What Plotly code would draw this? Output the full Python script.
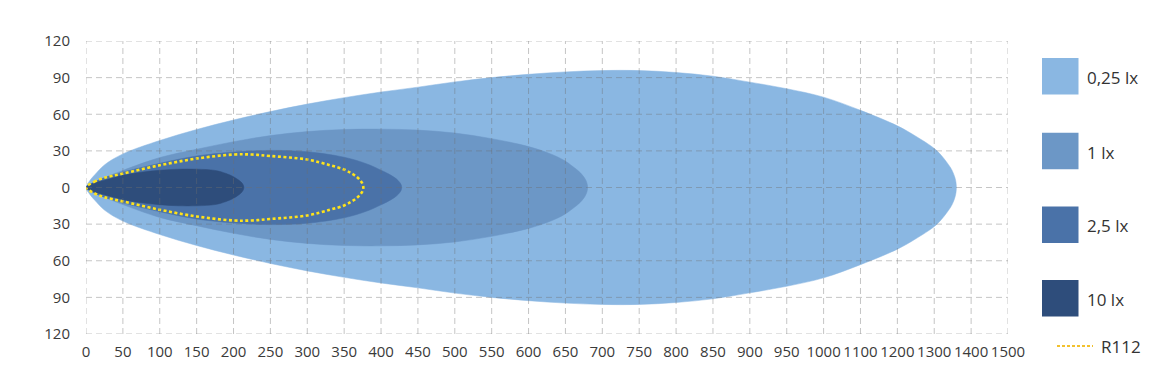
import numpy as np
import plotly.graph_objects as go

# ---------------- data ----------------
x_tick_values = [0, 50, 100, 150, 200, 250, 300, 350, 400, 450, 500, 550, 600, 650,
                 700, 750, 800, 850, 900, 950, 1000, 1100, 1200, 1300, 1400, 1500]
x_tick_labels = [str(v) for v in x_tick_values]
y_tick_values = [-120, -90, -60, -30, 0, 30, 60, 90, 120]
y_tick_labels = [str(abs(v)) for v in y_tick_values]

# distance (m) and half-width (m) of each isolux contour (symmetric about 0)
dist_025 = [0, 5, 12, 25, 50, 100, 150, 200, 250, 300, 350, 400, 450, 500, 550, 600, 650,
            700, 750, 800, 850, 900, 950, 1000, 1100, 1200, 1250, 1300, 1320, 1343, 1350,
            1356, 1359, 1360]
half_025 = [0, 5.5, 10.5, 18.5, 27.5, 38.5, 47.5, 55.3, 62.2, 68.3, 73.6, 78.2, 82.2, 86.5,
            90, 92.7, 94.7, 95.8, 95.8, 94.2, 91.2, 86.3, 80.9, 74, 63.2, 50.5, 42, 32, 26,
            16.8, 13, 8.2, 4.1, 0]

dist_1 = [0, 10, 25, 50, 100, 150, 200, 250, 300, 350, 400, 450, 500, 550, 600, 630, 648,
          660, 670, 676, 679, 680]
half_1 = [0, 4, 8, 14, 24.5, 31.3, 37.5, 42.5, 45.8, 47.5, 47.8, 47, 44.6, 40, 33.5, 27.5,
          22.3, 17.2, 12.2, 7.7, 3.9, 0]

dist_25 = [0, 10, 25, 50, 100, 150, 200, 250, 300, 350, 380, 400, 410, 418, 424, 427, 428]
half_25 = [0, 4, 8, 12.5, 19.8, 25.8, 29, 30.4, 29.3, 24.8, 19.5, 14.2, 11.2, 8.3, 5.2, 2.6, 0]

dist_10 = [0, 10, 25, 50, 75, 100, 125, 150, 175, 190, 200, 207, 211, 213, 214]
half_10 = [0, 3.5, 6, 10, 12.5, 14.1, 15, 15, 14, 11.5, 8.8, 6.1, 4, 2.3, 0]

dist_r112 = [0, 11, 24, 50, 100, 150, 200, 225, 250, 300, 331, 350, 360, 367, 372, 375, 376]
half_r112 = [0, 4.6, 7.8, 11.4, 18.2, 23.7, 27, 27, 25.8, 22.9, 18.2, 14.7, 11.5, 8.7, 5.7,
             2.9, 0]

zone_names = ["0,25 lx", "1 lx", "2,5 lx", "10 lx"]
zone_colors = ["#8AB7E2", "#6C97C6", "#4A72A8", "#2E4D7B"]
zone_dists = [dist_025, dist_1, dist_25, dist_10]
zone_halfs = [half_025, half_1, half_25, half_10]
r112_name = "R112"
r112_color = "#FFE31A"
r112_legend_color = "#F2C12E"

# ---------------- helpers ----------------
tick_index = np.arange(len(x_tick_values))


def to_axis(d):
    # the x axis is evenly spaced per tick label (nonlinear after 1000 m)
    return np.interp(np.asarray(d, dtype=float), x_tick_values, tick_index)


def outline(d, h):
    x = to_axis(d)
    h = np.asarray(h, dtype=float)
    xs = np.concatenate([x, x[::-1][1:]])
    ys = np.concatenate([h, -h[::-1][1:]])
    return xs, ys


fig = go.Figure()

for name, col, d, h in zip(zone_names, zone_colors, zone_dists, zone_halfs):
    xs, ys = outline(d, h)
    fig.add_trace(go.Scatter(
        x=xs, y=ys, name=name, mode="lines", fill="toself", fillcolor=col,
        line=dict(color=col, width=0.5, shape="spline", smoothing=1),
        hoverinfo="skip", showlegend=False))

xs, ys = outline(dist_r112, half_r112)
fig.add_trace(go.Scatter(
    x=xs, y=ys, name=r112_name, mode="lines",
    line=dict(color=r112_color, width=2.6, dash="3px,2.5px", shape="spline", smoothing=1),
    hoverinfo="skip", showlegend=False))

# ---------------- layout geometry ----------------
W, H = 1172, 382
L, R, T, B = 86, 164, 41, 48
pw, ph = W - L - R, H - T - B


def px_x(px):
    return (px - L) / pw


def px_y(py):
    return (H - B - py) / ph


shapes = []
grid_line = dict(color="rgba(110,110,110,0.4)", width=1, dash="6px,4px")
for i in tick_index:
    shapes.append(dict(type="line", xref="x", yref="y", x0=i, x1=i,
                       y0=y_tick_values[0], y1=y_tick_values[-1],
                       line=grid_line, layer="above"))
for v in y_tick_values:
    shapes.append(dict(type="line", xref="x", yref="y", x0=tick_index[0], x1=tick_index[-1],
                       y0=v, y1=v, line=grid_line, layer="above"))

# manual legend
annotations = []
sq_left, sq_right = 1042, 1078.5
sq_centers = [76.3, 151, 224.7, 298.3]
sq_half = 18.2
label_font = dict(family="Open Sans", size=17, color="#333333")
for name, col, cy in zip(zone_names, zone_colors, sq_centers):
    shapes.append(dict(type="rect", xref="paper", yref="paper",
                       x0=px_x(sq_left), x1=px_x(sq_right),
                       y0=px_y(cy + sq_half), y1=px_y(cy - sq_half),
                       fillcolor=col, line=dict(width=0), layer="above"))
    annotations.append(dict(xref="paper", yref="paper", x=px_x(1085), y=px_y(cy + 1),
                            text=name, showarrow=False, xanchor="left", yanchor="middle",
                            font=label_font))
r_y = 346
shapes.append(dict(type="line", xref="paper", yref="paper",
                   x0=px_x(1057), x1=px_x(1093), y0=px_y(r_y), y1=px_y(r_y),
                   line=dict(color=r112_legend_color, width=2, dash="3px,2px")))
annotations.append(dict(xref="paper", yref="paper", x=px_x(1099), y=px_y(r_y),
                        text=r112_name, showarrow=False, xanchor="left", yanchor="middle",
                        font=label_font))

tick_font = dict(family="Open Sans", size=15, color="#3A3A3A")
fig.update_layout(
    width=W, height=H, autosize=False,
    margin=dict(l=L, r=R, t=T, b=B, pad=0),
    paper_bgcolor="white", plot_bgcolor="white",
    showlegend=False,
    shapes=shapes, annotations=annotations,
    xaxis=dict(range=[tick_index[0], tick_index[-1]], tickmode="array",
               tickvals=list(tick_index), ticktext=x_tick_labels, tickangle=0,
               showgrid=False, zeroline=False, showline=False, automargin=False,
               ticks="outside", ticklen=4, tickcolor="rgba(0,0,0,0)",
               tickfont=tick_font, fixedrange=True),
    yaxis=dict(range=[y_tick_values[0], y_tick_values[-1]], tickmode="array",
               tickvals=y_tick_values, ticktext=y_tick_labels, automargin=False,
               showgrid=False, zeroline=False, showline=False,
               ticks="outside", ticklen=12, tickcolor="rgba(0,0,0,0)",
               tickfont=tick_font, fixedrange=True),
)

fig.write_html("out.html")
